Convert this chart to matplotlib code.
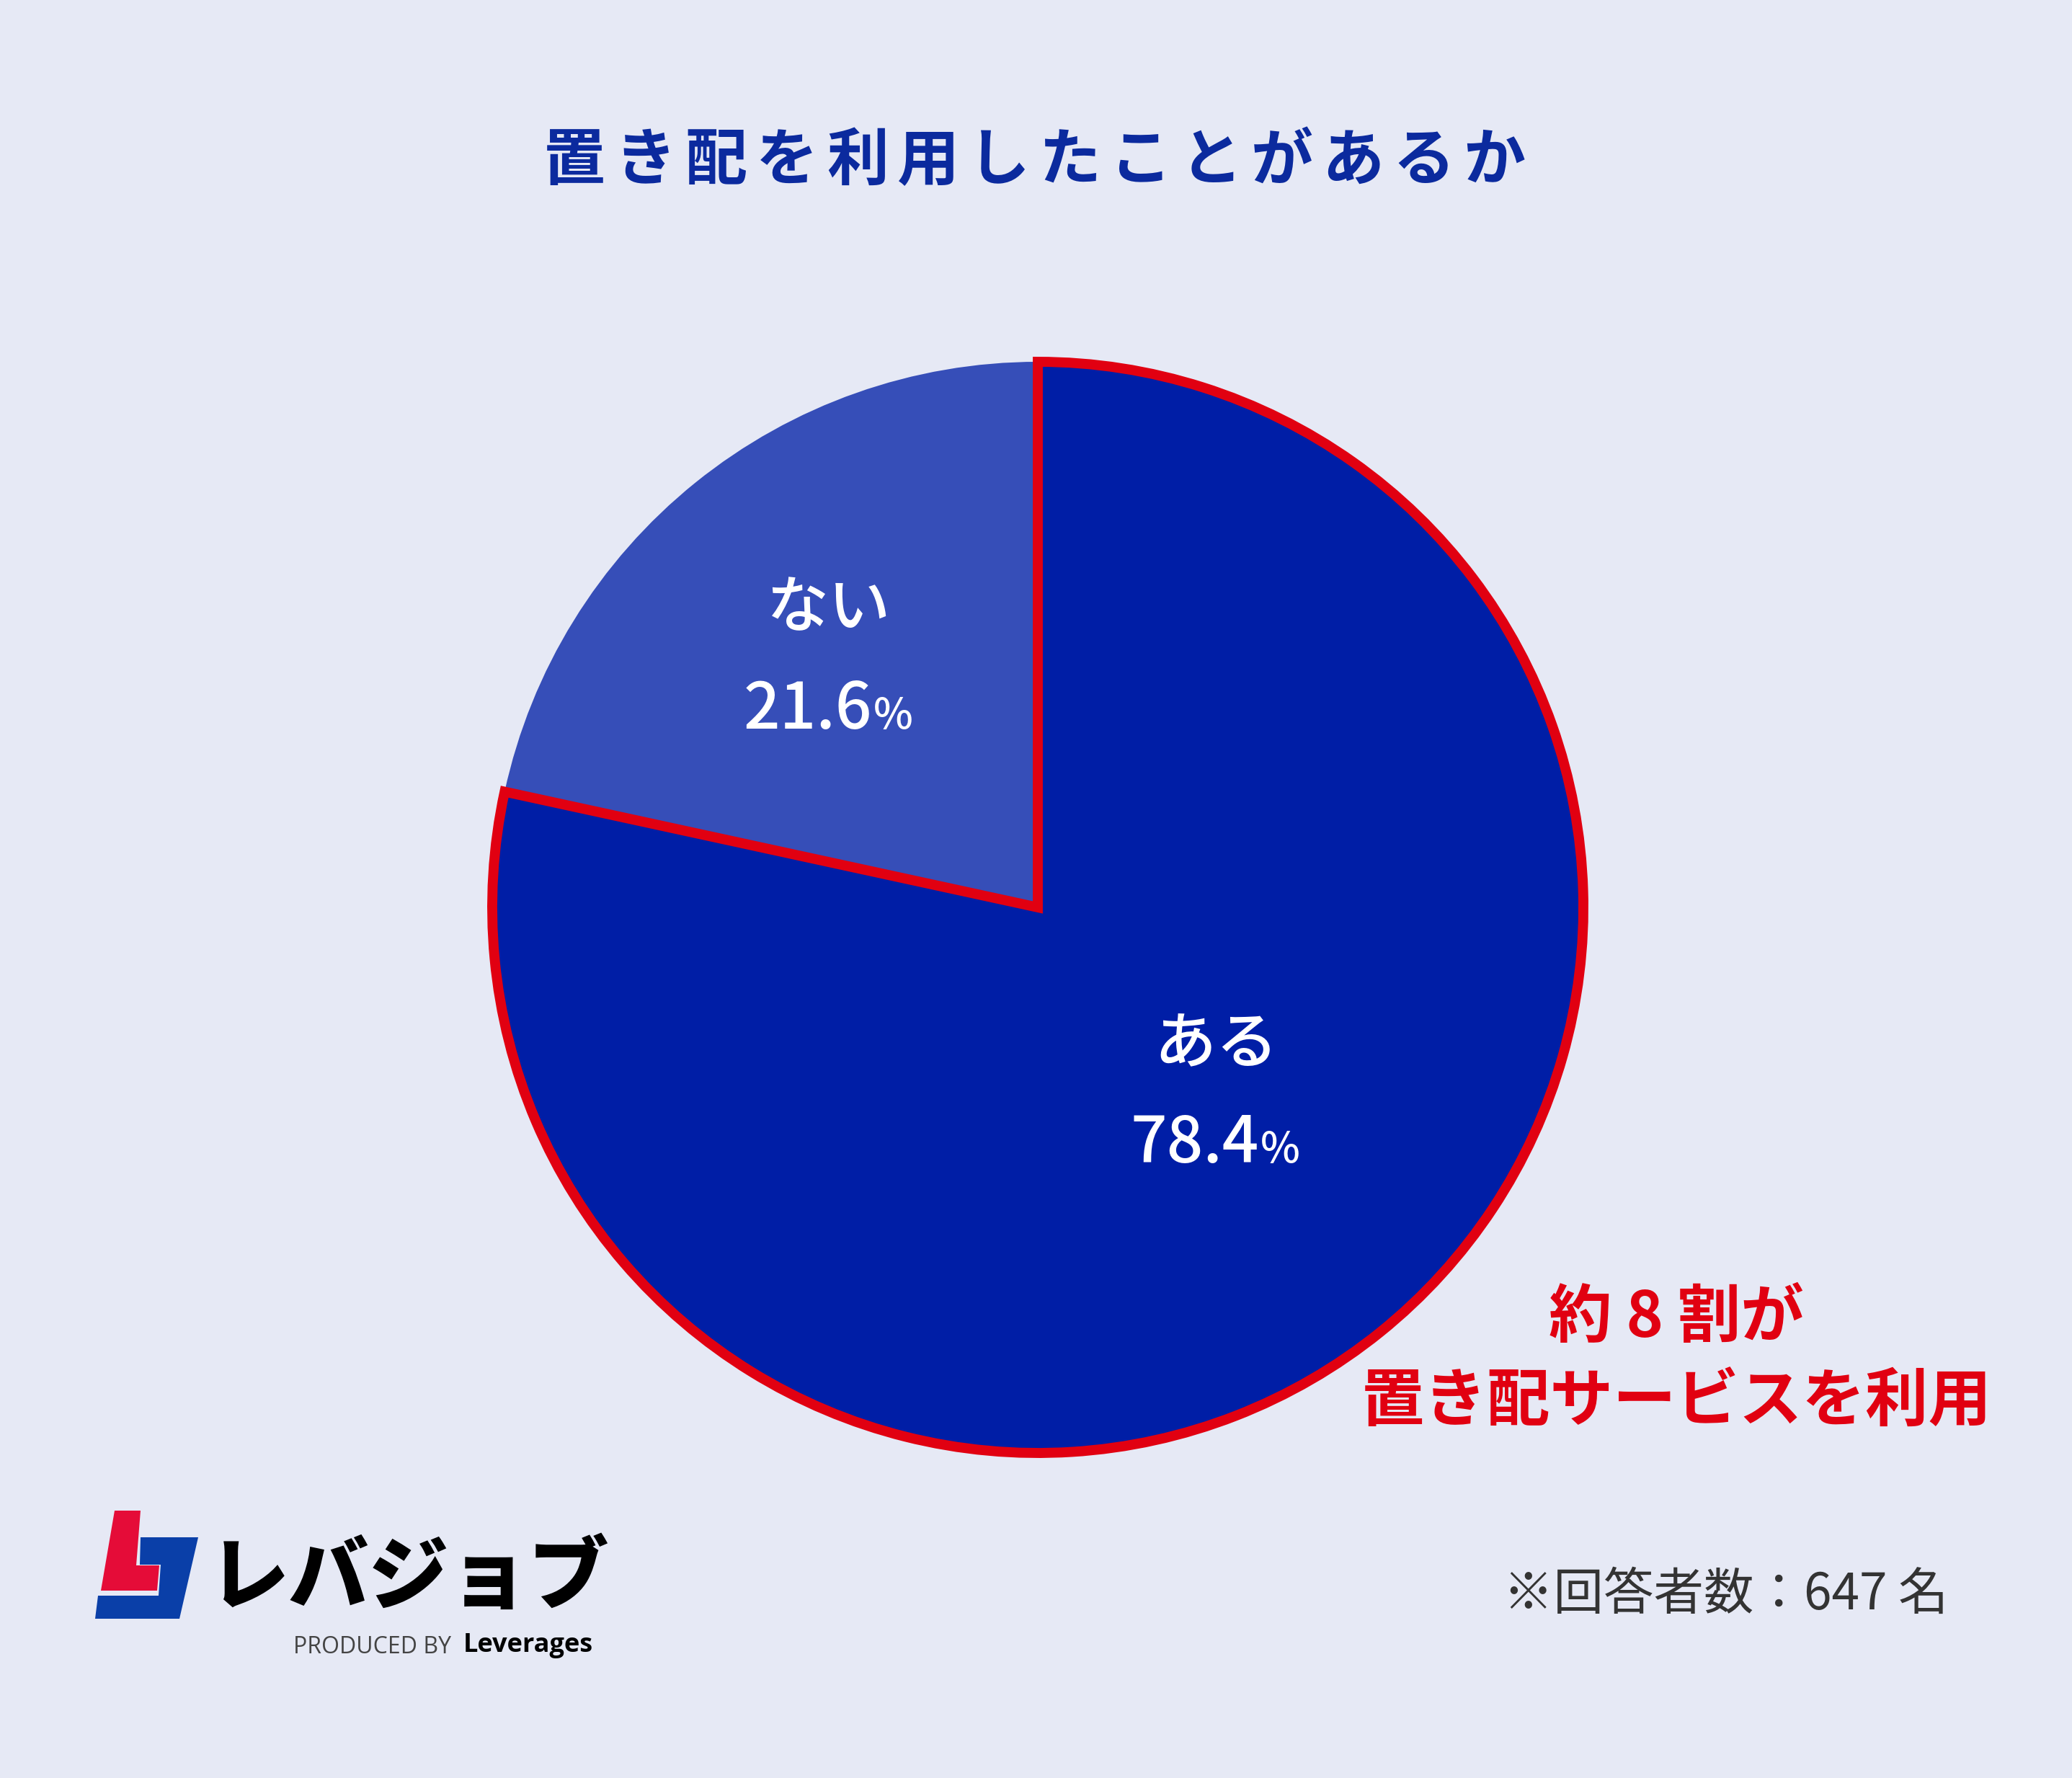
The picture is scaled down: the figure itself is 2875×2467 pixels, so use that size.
import matplotlib
matplotlib.use("Agg")
import matplotlib.pyplot as plt
from matplotlib.patches import Polygon

W, H = 2875, 2467

plt.rcParams["font.family"] = ["Noto Sans CJK JP", "DejaVu Sans"]

# data
TITLE = "置き配を利用したことがあるか"
LABELS = ["ある", "ない"]
VALUES = [78.4, 21.6]
CALLOUT = ["約 8 割が", "置き配サービスを利用"]
NOTE = "※回答者数：647 名"

BG = "#E6E9F5"
SLICE_COLORS = ["#001EA6", "#364EB8"]
RED = "#E10011"
TITLE_C = "#0B2A9E"


def px(y):
    # image y (top-down) -> axes y (bottom-up)
    return H - y


fig = plt.figure(figsize=(W / 100, H / 100), dpi=100, facecolor=BG)
ax = fig.add_axes([0, 0, 1, 1])
ax.set_facecolor(BG)

wedges, _ = ax.pie(
    VALUES, colors=SLICE_COLORS, startangle=90, counterclock=False,
    center=(1440, px(1259)), radius=757, wedgeprops=dict(linewidth=0),
)
wedges[0].set_edgecolor(RED)
wedges[0].set_linewidth(10)
wedges[0].set_joinstyle("miter")
wedges[0].set_zorder(3)
wedges[1].set_zorder(2)

ax.set_xlim(0, W)
ax.set_ylim(0, H)
ax.set_aspect("equal")
ax.axis("off")

# title with letter spacing
x0, pitch = 797, 98.2
for i, ch in enumerate(TITLE):
    ax.text(x0 + i * pitch, px(224), ch, ha="center", va="center",
            fontsize=62, fontweight="bold", color=TITLE_C)

# slice labels
label_pos = {"ある": (1687, 1450, 1613), "ない": (1150, 845, 1011)}
for lab, val in zip(LABELS, VALUES):
    x, y1, y2 = label_pos[lab]
    ax.text(x, px(y1), lab, ha="center", va="center", fontsize=62,
            fontweight="medium", color="white", zorder=5)
    ax.text(x + 60, px(y2), f"{val:.1f}", ha="right", va="baseline",
            fontsize=64, fontweight="medium", color="white", zorder=5)
    ax.text(x + 62, px(y2), "%", ha="left", va="baseline",
            fontsize=42, fontweight="medium", color="white", zorder=5)

# callout
ax.text(2326, px(1830), CALLOUT[0], ha="center", va="center",
        fontsize=63, fontweight="bold", color=RED)
ax.text(2326, px(1947), CALLOUT[1], ha="center", va="center",
        fontsize=63, fontweight="bold", color=RED)

# respondents
ax.text(2704, px(2213), NOTE, ha="right", va="center",
        fontsize=50, color="#333333")

# logo mark
red_mark = [(159, 2096), (195, 2096), (189, 2172), (221, 2172), (218, 2207), (140, 2207)]
blue_mark = [(195, 2133), (275, 2133), (249, 2246), (132, 2246), (136, 2214),
             (220, 2214), (223, 2171), (194, 2171)]
ax.add_patch(Polygon([(x, px(y)) for x, y in red_mark], closed=True,
                     facecolor="#E50C38", edgecolor="none"))
ax.add_patch(Polygon([(x, px(y)) for x, y in blue_mark], closed=True,
                     facecolor="#0A3FA8", edgecolor="none"))
ax.text(290, px(2191), "レバジョブ", ha="left", va="center",
        fontsize=80, fontweight="black", color="black")
ax.text(407, px(2285), "PRODUCED BY", ha="left", va="center",
        fontsize=23, color="#444444", family=["Open Sans", "DejaVu Sans"])
ax.text(823, px(2283), "Leverages", ha="right", va="center",
        fontsize=26, fontweight="bold", color="black", family=["Open Sans", "DejaVu Sans"])

fig.savefig("out.png", dpi=100, facecolor=BG)
